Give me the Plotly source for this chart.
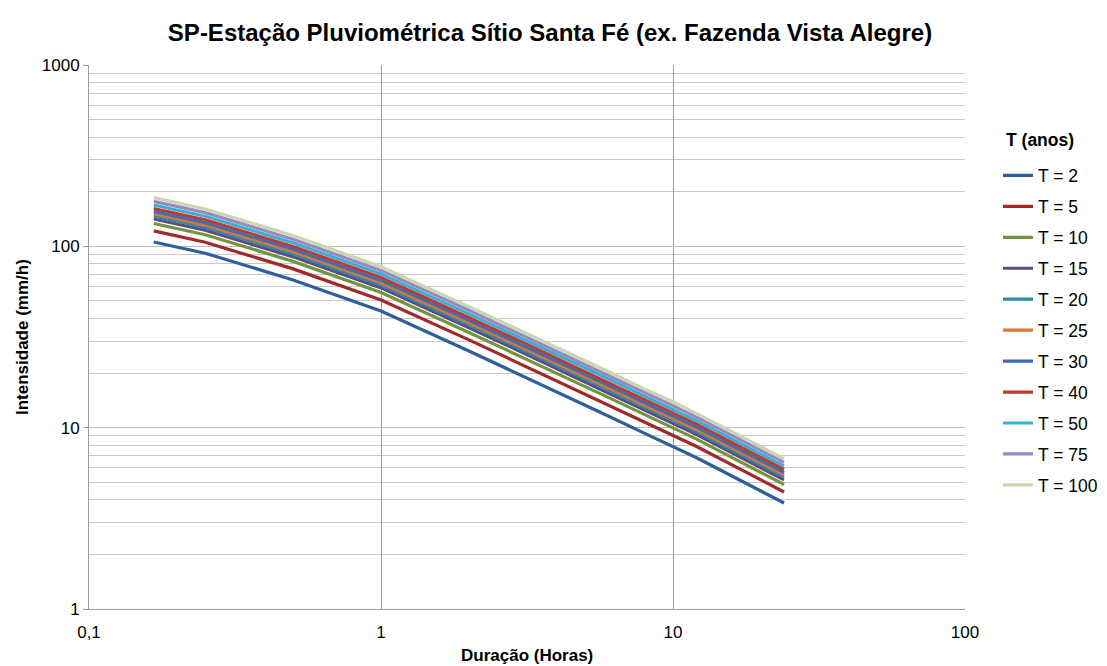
import plotly.graph_objects as go

# durations in hours
duration_h = [1/6, 0.25, 0.5, 1, 2, 3, 6, 8, 10, 12, 24]

T2 = [105.7, 91.6, 65.3, 44.0, 26.5, 19.6, 11.6, 9.3, 7.9, 6.85, 3.84]
T5 = [121.6, 105.3, 75.1, 50.6, 30.5, 22.5, 13.3, 10.7, 9.1, 7.9, 4.42]
T10 = [133.7, 115.9, 82.6, 55.7, 33.5, 24.8, 14.7, 11.8, 10.0, 8.67, 4.86]
T15 = [141.6, 122.7, 87.5, 59.0, 35.5, 26.3, 15.5, 12.5, 10.6, 9.18, 5.15]
T20 = [146.9, 127.3, 90.8, 61.2, 36.8, 27.2, 16.1, 12.9, 11.0, 9.52, 5.34]
T25 = [151.2, 131.0, 93.4, 62.9, 37.9, 28.0, 16.6, 13.3, 11.3, 9.80, 5.49]
T30 = [155.9, 135.1, 96.3, 64.9, 39.1, 28.9, 17.1, 13.7, 11.65, 10.1, 5.66]
T40 = [161.7, 140.1, 99.9, 67.3, 40.5, 30.0, 17.7, 14.2, 12.1, 10.5, 5.88]
T50 = [169.1, 146.6, 104.5, 70.4, 42.4, 31.4, 18.6, 14.9, 12.6, 10.96, 6.14]
T75 = [177.0, 153.4, 109.4, 73.7, 44.4, 32.8, 19.4, 15.6, 13.2, 11.47, 6.43]
T100 = [185.5, 160.8, 114.6, 77.2, 46.5, 34.4, 20.4, 16.3, 13.9, 12.0, 6.74]

series_names = ["T = 2", "T = 5", "T = 10", "T = 15", "T = 20", "T = 25",
                "T = 30", "T = 40", "T = 50", "T = 75", "T = 100"]
series_values = [T2, T5, T10, T15, T20, T25, T30, T40, T50, T75, T100]
series_colors = ["#2E5E9C", "#A3282A", "#74943A", "#5E4A86", "#2B8AA5", "#DC7633",
                 "#3B6FB6", "#BE3A35", "#3BAFD0", "#9D87C2", "#C5D9AF"]

x_tickvals = [0.1, 1, 10, 100]
x_ticktext = ["0,1", "1", "10", "100"]
y_tickvals = [1, 10, 100, 1000]
y_ticktext = ["1", "10", "100", "1000"]
y_minor = [m * d for d in (1, 10, 100) for m in range(2, 10)]

FONT = "Liberation Sans, Arial, sans-serif"

# page has an 8px body margin: the figure is sized so the plot area lands on 89..965 x 65..609
W, H = 1099, 658
ML, MT = 81, 57
PW, PH = 876, 544


def px_x(p):
    return (p - 89) / PW


def px_y(p):
    return (609 - p) / PH


fig = go.Figure()
for i, (name, vals, col) in enumerate(zip(series_names, series_values, series_colors)):
    fig.add_trace(go.Scatter(
        x=duration_h, y=vals, mode="lines", name=name,
        line=dict(color=col, width=3.2), legendgroup=f"g{i}",
    ))

fig.update_layout(
    width=W, height=H,
    margin=dict(l=ML, r=W - ML - PW, t=MT, b=H - MT - PH, autoexpand=False),
    paper_bgcolor="white", plot_bgcolor="white",
    font=dict(family=FONT, size=17, color="#000000"),
    title=dict(
        text="<b>SP-Estação Pluviométrica Sítio Santa Fé (ex. Fazenda Vista Alegre)</b>",
        x=(550 - 8) / W, xanchor="center", y=1 - (33 - 8) / H, yanchor="middle",
        font=dict(family=FONT, size=24, color="#000000"),
    ),
    showlegend=True,
    legend=dict(
        x=px_x(998), xanchor="left", y=px_y(157.5), yanchor="top",
        font=dict(family=FONT, size=17.5, color="#000000"),
        tracegroupgap=5.2, itemwidth=30, bgcolor="rgba(0,0,0,0)",
    ),
    annotations=[
        dict(text="<b>T (anos)</b>", xref="paper", yref="paper",
             x=px_x(1004), xanchor="left", y=px_y(140), yanchor="middle",
             showarrow=False, font=dict(family=FONT, size=17.5, color="#000000")),
        dict(text="<b>Duração (Horas)</b>", xref="paper", yref="paper",
             x=0.5, xanchor="center", y=px_y(655), yanchor="middle",
             showarrow=False, font=dict(family=FONT, size=17, color="#000000")),
        dict(text="<b>Intensidade (mm/h)</b>", xref="paper", yref="paper",
             x=px_x(22), xanchor="center", y=0.5, yanchor="middle", textangle=-90,
             showarrow=False, font=dict(family=FONT, size=17, color="#000000")),
    ],
)

fig.update_xaxes(
    type="log", range=[-1, 2], automargin=False,
    tickvals=x_tickvals, ticktext=x_ticktext,
    showgrid=True, gridcolor="#9E9E9E", gridwidth=1,
    showline=True, linecolor="#9E9E9E", linewidth=1,
    ticks="outside", ticklen=8, tickcolor="rgba(0,0,0,0)",
    tickfont=dict(family=FONT, size=17, color="#000000"),
    zeroline=False,
)
fig.update_yaxes(
    type="log", range=[0, 3], automargin=False,
    tickvals=y_tickvals, ticktext=y_ticktext,
    showgrid=True, gridcolor="#BDBDBD", gridwidth=1,
    showline=True, linecolor="#9E9E9E", linewidth=1,
    ticks="outside", ticklen=5, tickcolor="#9E9E9E",
    tickfont=dict(family=FONT, size=17, color="#000000"),
    minor=dict(tickmode="array", tickvals=y_minor, showgrid=True, gridcolor="#C8C8C8", gridwidth=1, ticks=""),
    zeroline=False,
)

fig.write_html("out.html")
